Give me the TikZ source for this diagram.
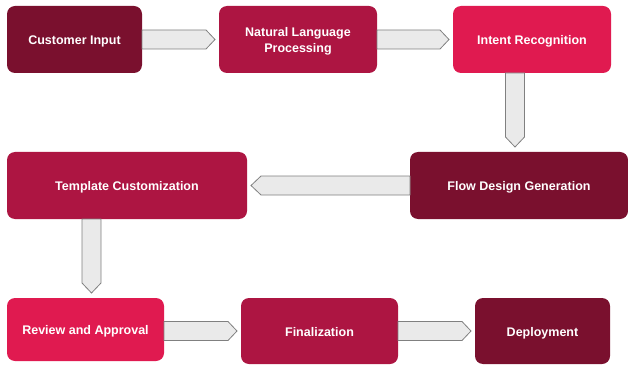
\documentclass[tikz,border=0pt]{standalone}
\usepackage{fontspec}
\setmainfont{Liberation Sans}
\usepackage{xcolor}
\usepackage{tikz}
\usetikzlibrary{positioning,calc}
\definecolor{WineDark}{RGB}{122,16,46}
\definecolor{WineMid}{RGB}{173,21,66}
\definecolor{WineBright}{RGB}{224,26,80}
\definecolor{ArrowFill}{RGB}{234,234,234}
\definecolor{ArrowEdge}{RGB}{128,128,128}

\begin{document}
\begin{tikzpicture}[x=1pt,y=-1pt]
        % Style for the process boxes and the block arrows
        \tikzstyle{stage} = [
            rounded corners=8pt,
            minimum height=67pt,
            inner sep=0pt,
            outer sep=0pt,
            text=white,
            align=center,
            text height=10pt,
            text depth=0pt,
            font=\bfseries\fontsize{12.5}{16}\selectfont
        ]
        \tikzstyle{flowarrow} = [
            fill=ArrowFill,
            draw=ArrowEdge,
            line width=0.8pt,
            line join=miter
        ]

        \useasboundingbox (0,0) rectangle (628,366);

        % Top row
        \node[stage, fill=WineDark, minimum width=135pt] at (74.5,39.5) (cust) {Customer Input};
        \node[stage, fill=WineMid, minimum width=158pt, text height=26pt] at (298,39.5) (nlp) {Natural Language\\Processing};
        \node[stage, fill=WineBright, minimum width=158pt] at (532,39.5) (intent) {Intent Recognition};

        % Middle row
        \node[stage, fill=WineDark, minimum width=218pt] at (519,185.5) (flow) {Flow Design Generation};
        \node[stage, fill=WineMid, minimum width=240pt] at (127,185.5) (tmpl) {Template Customization};

        % Bottom row
        \node[stage, fill=WineBright, minimum width=157pt, minimum height=63pt] at (85.5,329.5) (review) {Review and Approval};
        \node[stage, fill=WineMid, minimum width=157pt, minimum height=66pt] at (319.5,331) (final) {Finalization};
        \node[stage, fill=WineDark, minimum width=135pt, minimum height=66pt] at (542.5,331) (deploy) {Deployment};

        % Arrows to the right
        \foreach \a/\b in {cust/nlp, nlp/intent, review/final, final/deploy} {
            \draw[flowarrow] ($(\a.east |- \b.west)+(0,-9.5)$) -- ($(\b.west)+(-13,-9.5)$)
                -- ($(\b.west)+(-4,0)$) -- ($(\b.west)+(-13,9.5)$)
                -- ($(\a.east |- \b.west)+(0,9.5)$) -- cycle;
        }

        % Arrow to the left
        \draw[flowarrow] ($(flow.west)+(0,-9.5)$) -- ($(tmpl.east)+(14,-9.5)$)
            -- ($(tmpl.east)+(4,0)$) -- ($(tmpl.east)+(14,9.5)$)
            -- ($(flow.west)+(0,9.5)$) -- cycle;

        % Arrows going down
        \coordinate (d1) at ($(intent.south)+(-17,0)$);
        \coordinate (d2) at ($(tmpl.south)+(-35.5,0)$);
        \foreach \c/\b in {d1/flow, d2/review} {
            \draw[flowarrow] ($(\c)+(-9.5,0)$) -- ($(\c |- \b.north)+(-9.5,-15)$)
                -- ($(\c |- \b.north)+(0,-5)$) -- ($(\c |- \b.north)+(9.5,-15)$)
                -- ($(\c)+(9.5,0)$) -- cycle;
        }
    \end{tikzpicture}
\end{document}
